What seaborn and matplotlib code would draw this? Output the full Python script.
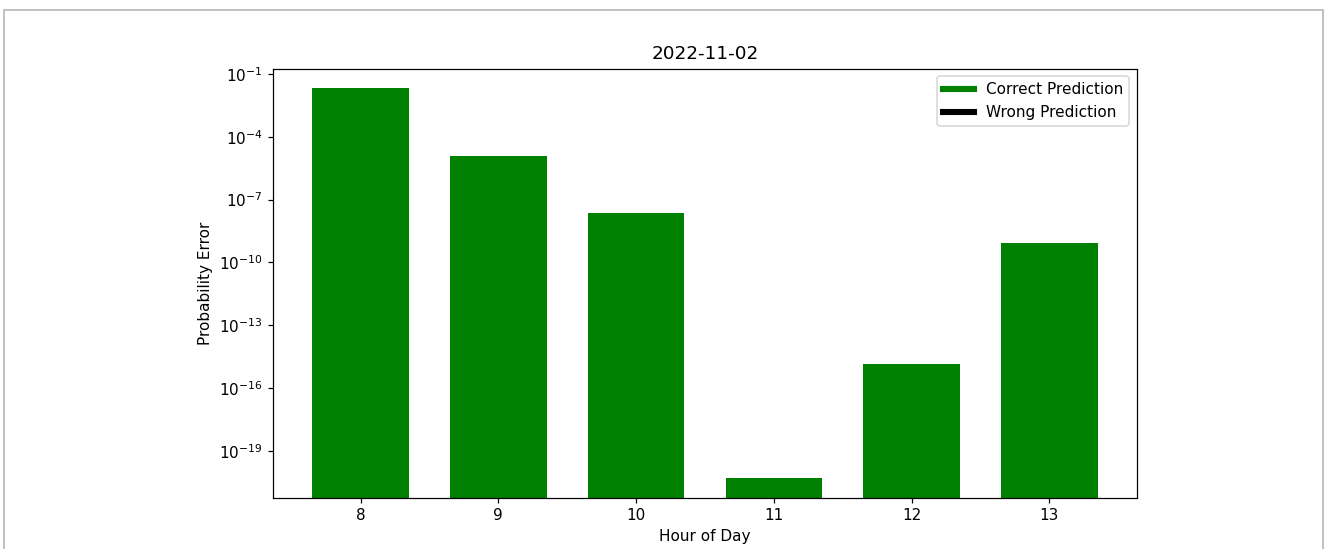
import numpy as np
import pandas as pd
import matplotlib
matplotlib.use("Agg")
import matplotlib.pyplot as plt
import seaborn as sns
from matplotlib.lines import Line2D
from matplotlib.patches import Rectangle

# значения
hours = [8, 9, 10, 11, 12, 13]
prob_error = [2.1e-2, 1.2e-5, 2.3e-8, 5.1e-21, 1.35e-15, 8.5e-10]
title = "2022-11-02"

df = pd.DataFrame({"hour": [str(h) for h in hours], "err": prob_error})

DPI = 110
fig = plt.figure(figsize=(1328 / DPI, 549 / DPI), dpi=DPI)
ax = fig.add_axes([273 / 1328, 1 - 497.5 / 549, (1137 - 273) / 1328, (497.5 - 68.5) / 549])

sns.barplot(data=df, x="hour", y="err", color="green", saturation=1,
            width=0.7, linewidth=0, ax=ax)
ax.set_yscale("log")

# пределы как у matplotlib по умолчанию (5% поля в лог-шкале)
lo, hi = np.log10(min(prob_error)), np.log10(max(prob_error))
pad = 0.05 * (hi - lo)
ax.set_ylim(10 ** (lo - pad), 10 ** (hi + pad))
n = len(hours)
xpad = 0.05 * (n - 1 + 0.7)
ax.set_xlim(-0.35 - xpad, n - 1 + 0.35 + xpad)
ax.yaxis.set_minor_locator(matplotlib.ticker.NullLocator())

ax.set_title(title, fontsize=12)
ax.set_xlabel("Hour of Day")
ax.set_ylabel("Probability Error")

legend_elements = [Line2D([0], [0], color="green", lw=4, label="Correct Prediction"),
                   Line2D([0], [0], color="black", lw=4, label="Wrong Prediction")]
ax.legend(handles=legend_elements, loc="upper right")

# серая рамка вокруг картинки
fig.patches.append(Rectangle((4 / 1328, -0.05), (1323 - 4) / 1328, 1.05 - 10 / 549,
                             transform=fig.transFigure, fill=False,
                             edgecolor="#bdbdbd", linewidth=1.2))

fig.savefig("out.png", dpi=DPI)
